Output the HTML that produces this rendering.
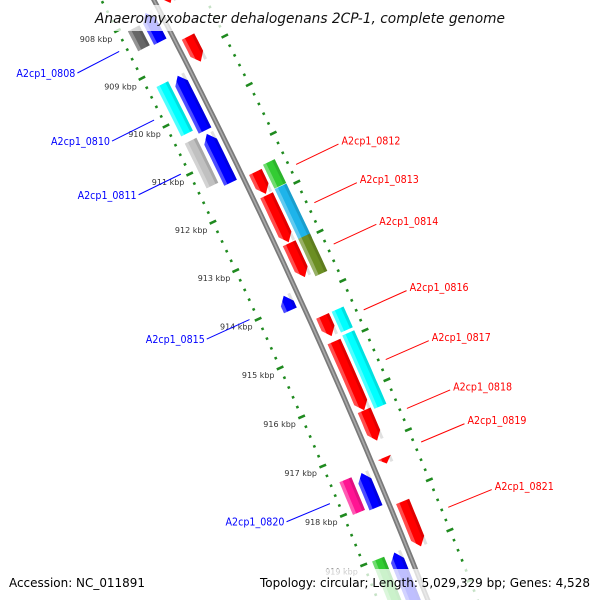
<!DOCTYPE html>
<html><head><meta charset="utf-8"><style>
html,body{margin:0;padding:0;background:#fff;width:600px;height:600px;overflow:hidden;}
svg{display:block;}
text{font-family:"DejaVu Sans","Liberation Sans",sans-serif;}
</style></head><body>
<svg id="chart" width="600" height="600" viewBox="0 0 600 600" xmlns="http://www.w3.org/2000/svg">
<g id="rulers"></g>
<g id="backbone"></g>
<g id="genes"></g>
<g id="labels"></g>
<rect x="90" y="5" width="420" height="26" fill="#fff" fill-opacity="0.75"/>
<text x="300" y="23" text-anchor="middle" font-size="14" font-style="italic" textLength="410" lengthAdjust="spacingAndGlyphs" fill="#111">Anaeromyxobacter dehalogenans 2CP-1, complete genome</text>
<rect x="4" y="569" width="146" height="31" fill="#fff" fill-opacity="0.75"/>
<rect x="255" y="569" width="340" height="31" fill="#fff" fill-opacity="0.75"/>
<text x="9" y="587" font-size="12" textLength="136" lengthAdjust="spacingAndGlyphs" fill="#000">Accession: NC_011891</text>
<text x="260" y="587" font-size="12" textLength="330" lengthAdjust="spacingAndGlyphs" fill="#000">Topology: circular; Length: 5,029,329 bp; Genes: 4,528</text>
</svg>
<script>
// ---- data ----
const geneStart = [907.95, 908.1, 909.27, 909.26, 910.45, 910.47, 913.8, 917.4, 917.4, 919.0, 919.0,
                   907.3, 907.4, 908.7, 911.5, 911.44, 911.98, 911.94, 912.96, 912.96, 914.44, 914.44, 914.96, 914.92, 916.35, 917.3, 918.18];
const geneEnd   = [908.55, 908.52, 910.3, 910.4, 911.38, 911.48, 914.1, 918.06, 918.1, 920.0, 920.0,
                   907.9, 908.0, 909.22, 911.95, 911.93, 912.94, 913.05, 913.65, 913.72, 914.85, 914.86, 916.35, 916.4, 916.96, 917.42, 919.08];
const geneLane  = [-1, -2, -2, -1, -2, -1, -1, -2, -1, -2, -1,
                   2, 1, 1, 1, 2, 1, 2, 1, 2, 1, 2, 1, 2, 1, 1, 1];
const geneArrow = [-1, 0, 0, -1, 0, -1, -1, 0, -1, 0, -1,
                   0, 1, 1, 1, 0, 1, 0, 1, 0, 1, 0, 1, 0, 1, 1, 1];
const geneColor = ["#0000ff", "#666666", "#00ffff", "#0000ff", "#c0c0c0", "#0000ff", "#0000ff", "#ff1493", "#0000ff", "#33cc33", "#0000ff",
                   "#c0c0c0", "#ff0000", "#ff0000", "#ff0000", "#33cc33", "#ff0000", "#1eb4ea", "#ff0000", "#6b8e23", "#ff0000", "#00ffff", "#ff0000", "#00ffff", "#ff0000", "#ff0000", "#ff0000"];
const labelNames = ["A2cp1_0808", "A2cp1_0810", "A2cp1_0811", "A2cp1_0815", "A2cp1_0820",
                    "A2cp1_0812", "A2cp1_0813", "A2cp1_0814", "A2cp1_0816", "A2cp1_0817", "A2cp1_0818", "A2cp1_0819", "A2cp1_0821"];
const labelK    = [908.36, 909.8, 910.93, 913.94, 917.7, 911.7, 912.48, 913.32, 914.65, 915.65, 916.63, 917.3, 918.6];
const labelSide = [-1, -1, -1, -1, -1, 1, 1, 1, 1, 1, 1, 1, 1];
const tickKbp   = [906, 907, 908, 909, 910, 911, 912, 913, 914, 915, 916, 917, 918, 919, 920, 921];

// ---- geometry ----
const NS = "http://www.w3.org/2000/svg";
const A0 = 26.5 * Math.PI / 180, C = 0.5 * Math.PI / 180, S = 53.5 / C;
function pos(k, u) {
  const a = A0 - C * (k - 910);
  const bx = 166 + S * (Math.cos(a) - Math.cos(A0));
  const by = 126 - S * (Math.sin(a) - Math.sin(A0));
  return [bx + u * Math.cos(a), by - u * Math.sin(a)];
}
const U_OUT = 93, U_BB = 46.5;
const laneU = {"-2": [9, 22], "-1": [26, 40], "1": [53, 67], "2": [70, 83]};
function pts(list) { return list.map(p => p[0].toFixed(1) + "," + p[1].toFixed(1)).join(" "); }
function mk(tag, parent, attrs) { const e = document.createElementNS(NS, tag); for (const k in attrs) e.setAttribute(k, attrs[k]); parent.appendChild(e); return e; }

// rulers (radial ticks)
const rg = document.getElementById("rulers");
[0, U_OUT].forEach(u => {
  for (let i = 0; i < tickKbp.length - 1; i++) {
    const k0 = tickKbp[i];
    for (let j = 0; j < 5; j++) {
      const k = k0 + j * 0.2;
      if (j === 0) {
        const p1 = pos(k, u - 3.6), p2 = pos(k, u + 3.6);
        const e = mk("line", rg, {x1: p1[0], y1: p1[1], x2: p2[0], y2: p2[1], stroke: "#1f8a1f", "stroke-width": 2.6});
        
        
      } else {
        const p1 = pos(k, u - 1.3), p2 = pos(k, u + 1.3);
        const e = mk("line", rg, {x1: p1[0], y1: p1[1], x2: p2[0], y2: p2[1], stroke: "#1f8a1f", "stroke-width": 2.5});
        
        
      }
    }
  }
});
tickKbp.forEach(k => {
  const p = pos(k, -24);
  const t = mk("text", rg, {x: p[0].toFixed(1), y: (p[1] + 0.5).toFixed(1), "font-size": 8, "text-anchor": "middle", fill: "#333"});
  t.textContent = k + " kbp";
  
  
});

// backbone
const bg = document.getElementById("backbone");
const bb = [];
for (let k = 905; k <= 922; k += 0.25) bb.push(pos(k, U_BB));
let e1 = mk("polyline", bg, {points: pts(bb), fill: "none", stroke: "#7a7a7a", "stroke-width": 5});


let e2 = mk("polyline", bg, {points: pts(bb), fill: "none", stroke: "#a8a8a8", "stroke-width": 1.6});



// genes
const gg = document.getElementById("genes");
function genePoly(k1, k2, u1, u2, arrow) {
  const H = 0.16, um = (u1 + u2) / 2;
  const left = [], right = [];
  const n = 6;
  let bodyA = k1, bodyB = k2;
  if (arrow === 1) bodyB = Math.max(k1, k2 - H);
  if (arrow === -1) bodyA = Math.min(k2, k1 + H);
  for (let i = 0; i <= n; i++) { const k = bodyA + (bodyB - bodyA) * i / n; left.push(pos(k, u1)); right.push(pos(k, u2)); }
  let poly = [];
  if (arrow === -1) poly.push(pos(k1, um));
  poly = poly.concat(left);
  if (arrow === 1) poly.push(pos(k2, um));
  poly = poly.concat(right.reverse());
  return poly;
}
for (let i = 0; i < geneStart.length; i++) {
  const lu = laneU[geneLane[i]];
  const g = mk("g", gg, {});
  
  
  mk("polygon", g, {points: pts(genePoly(geneStart[i], geneEnd[i], lu[0], lu[1], geneArrow[i])), fill: geneColor[i]});
  mk("polygon", g, {points: pts(genePoly(geneStart[i], geneEnd[i], lu[0], lu[0] + 3.5, 0)), fill: "#fff", "fill-opacity": 0.3});
  mk("polygon", g, {points: pts(genePoly(geneStart[i], geneEnd[i], lu[1] - 3, lu[1], 0)), fill: "#000", "fill-opacity": 0.12});
}

// labels
const lg = document.getElementById("labels");
for (let i = 0; i < labelNames.length; i++) {
  const side = labelSide[i];
  const col = side < 0 ? "#0000ff" : "#ff0000";
  const p1 = pos(labelK[i], side < 0 ? -8 : 100);
  const p2 = pos(labelK[i], side < 0 ? -55 : 147);
  const l = mk("line", lg, {x1: p1[0], y1: p1[1], x2: p2[0], y2: p2[1], stroke: col, "stroke-width": 1});
  
  
  const tx = side < 0 ? p2[0] - 2 : p2[0] + 3;
  const ty = side < 0 ? p2[1] + 4 : p2[1] + 0.5;
  const t = mk("text", lg, {x: tx.toFixed(1), y: ty.toFixed(1), "font-size": 10.5, fill: col, "text-anchor": side < 0 ? "end" : "start", textLength: 59, lengthAdjust: "spacingAndGlyphs"});
  t.textContent = labelNames[i];
  
  
}
</script>
</body></html>
